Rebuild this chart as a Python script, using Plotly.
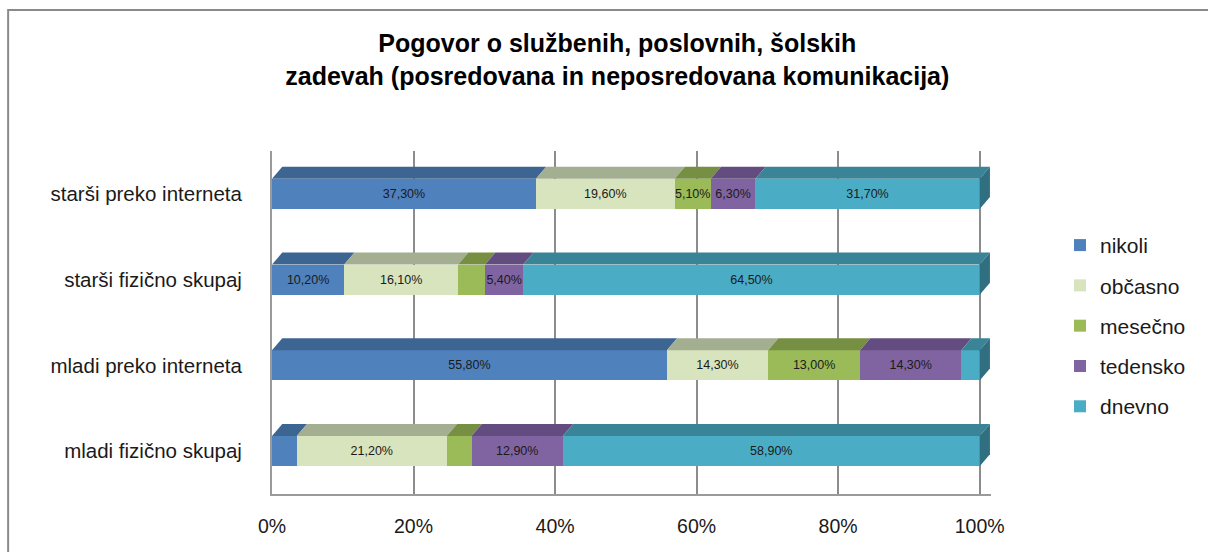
import plotly.graph_objects as go

# Data (categories listed bottom-to-top as Plotly draws them)
categories = ["mladi fizično skupaj", "mladi preko interneta",
              "starši fizično skupaj", "starši preko interneta"]
series_names = ["nikoli", "občasno", "mesečno", "tedensko", "dnevno"]
nikoli = [3.5, 55.8, 10.2, 37.3]
obcasno = [21.2, 14.3, 16.1, 19.6]
mesecno = [3.5, 13.0, 3.8, 5.1]
tedensko = [12.9, 14.3, 5.4, 6.3]
dnevno = [58.9, 2.6, 64.5, 31.7]
tick_vals = [0, 20, 40, 60, 80, 100]
tick_text = ["0%", "20%", "40%", "60%", "80%", "100%"]

series_values = [nikoli, obcasno, mesecno, tedensko, dnevno]
front_colors = ["#4F81BD", "#D7E4BD", "#9BBB59", "#8064A2", "#4BACC6"]
top_colors = ["#3D6591", "#A4AE90", "#768F43", "#634C7F", "#3A8497"]
side_color = "#2F6F7F"

FONT = "Liberation Sans"
BAR_W = 0.35
DX = 1.45     # 3D depth, horizontal (in % units)
DY = 0.14     # 3D depth, vertical (in category units)


def fmt(v):
    return (f"{v:.2f}".replace(".", ",") + "%") if v >= 5 else ""


fig = go.Figure()
for name, vals, col in zip(series_names, series_values, front_colors):
    fig.add_trace(go.Bar(
        y=categories, x=vals, orientation="h", name=name,
        marker=dict(color=col, line=dict(width=0)),
        width=BAR_W, legendgroup=name,
        text=[fmt(v) for v in vals], textposition="inside",
        insidetextanchor="middle", textangle=0, constraintext="none",
        textfont=dict(family=FONT, size=12.5, color="#1a1a1a"),
        hoverinfo="skip",
    ))

# 3D top faces and right side face derived from data
shapes = []
for ci in range(len(categories)):
    start = 0.0
    ytop = ci + BAR_W / 2
    for si, vals in enumerate(series_values):
        end = start + vals[ci]
        path = (f"M {start},{ytop} L {end},{ytop} L {end + DX},{ytop + DY} "
                f"L {start + DX},{ytop + DY} Z")
        shapes.append(dict(type="path", path=path, xref="x", yref="y",
                           fillcolor=top_colors[si], line=dict(width=0),
                           layer="above"))
        start = end
    ybot = ci - BAR_W / 2
    path = (f"M {start},{ybot} L {start},{ytop} L {start + DX},{ytop + DY} "
            f"L {start + DX},{ybot + DY} Z")
    shapes.append(dict(type="path", path=path, xref="x", yref="y",
                       fillcolor=side_color, line=dict(width=0), layer="above"))

# outer chart border (cropped at right/bottom like the reference)
shapes.append(dict(type="rect", xref="paper", yref="paper",
                   x0=-0.367, x1=1.5, y0=-0.5, y1=1.411,
                   line=dict(color="#8a8a8a", width=2), fillcolor="rgba(0,0,0,0)"))

fig.update_layout(
    width=1208, height=552,
    margin=dict(l=272, r=217, t=151, b=58),
    paper_bgcolor="white", plot_bgcolor="white",
    barmode="stack", bargap=0.6,
    font=dict(family=FONT, color="#1a1a1a"),
    title=dict(
        text="Pogovor o službenih, poslovnih, šolskih<br>zadevah (posredovana in neposredovana komunikacija)",
        x=0.511, xref="container", xanchor="center",
        y=0.905, yref="container", yanchor="top",
        font=dict(family=FONT, size=25, color="black", weight="bold"),
    ),
    xaxis=dict(range=[0, 101.6], tickvals=tick_vals, ticktext=tick_text,
               showgrid=True, gridcolor="#8c8c8c", gridwidth=1.5,
               showline=True, linecolor="#9a9a9a", linewidth=2,
               zeroline=False, ticks="", ticklabelstandoff=14,
               tickfont=dict(family=FONT, size=19.5, color="#1a1a1a")),
    yaxis=dict(categoryorder="array", categoryarray=categories,
               range=[-0.5, 3.5], showgrid=False, zeroline=False,
               showline=True, linecolor="#9a9a9a", linewidth=2,
               ticks="", ticklabelstandoff=24,
               tickfont=dict(family=FONT, size=20.5, color="#1a1a1a")),
    legend=dict(x=1.096, xanchor="left", y=0.49, yanchor="middle",
                traceorder="grouped", tracegroupgap=10,
                font=dict(family=FONT, size=21, color="#1a1a1a"),
                itemwidth=30, bgcolor="rgba(0,0,0,0)"),
    shapes=shapes,
    showlegend=True,
)

fig.write_html("out.html")
